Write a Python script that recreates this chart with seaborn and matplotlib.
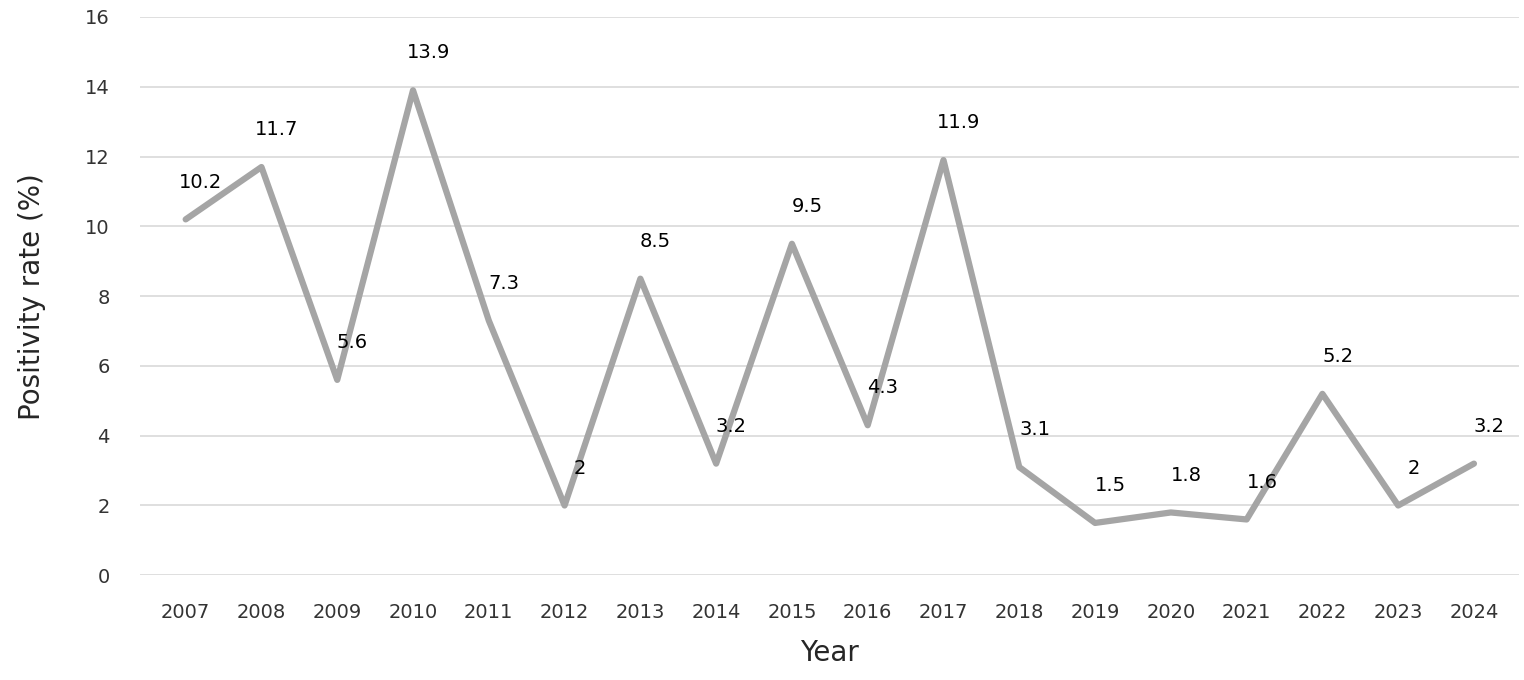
import pandas as pd
import seaborn as sns
import matplotlib.pyplot as plt

YEARS = [str(y) for y in range(2007, 2025)]
RATES = [10.2, 11.7, 5.6, 13.9, 7.3, 2, 8.5, 3.2, 9.5, 4.3, 11.9, 3.1, 1.5, 1.8, 1.6, 5.2, 2, 3.2]
Y_TICKS = [0, 2, 4, 6, 8, 10, 12, 14, 16]


def main():
    df = pd.DataFrame({"Year": YEARS, "Rate": RATES})
    sns.set_style("white")
    plt.rcParams["font.family"] = "DejaVu Sans"
    fig = plt.figure(figsize=(15.24, 6.8), dpi=100)
    ax = fig.add_axes([0.092, 0.154, 0.905, 0.821])

    sns.lineplot(data=df, x="Year", y="Rate", ax=ax, color="#a5a5a5", linewidth=4.5, sort=False)

    for i, v in enumerate(RATES):
        label = f"{v:g}"
        ax.annotate(label, (i, v), xytext=(11, 20), textcoords="offset points",
                    ha="center", va="bottom", fontsize=14, color="black")

    ax.set_ylim(0, 16)
    ax.set_xlim(-0.6, len(YEARS) - 0.4)
    ax.set_yticks(Y_TICKS)
    ax.yaxis.grid(True, color="#d9d9d9", linewidth=1.2)
    ax.set_axisbelow(True)
    for s in ax.spines.values():
        s.set_visible(False)
    ax.tick_params(axis="both", labelsize=14, length=0, colors="#333333")
    ax.tick_params(axis="x", pad=20)
    ax.tick_params(axis="y", pad=22)
    ax.set_xlabel("Year", fontsize=20, labelpad=12)
    ax.set_ylabel("Positivity rate (%)", fontsize=20, labelpad=28)
    fig.savefig("out.png", dpi=100)


if __name__ == "__main__":
    main()
